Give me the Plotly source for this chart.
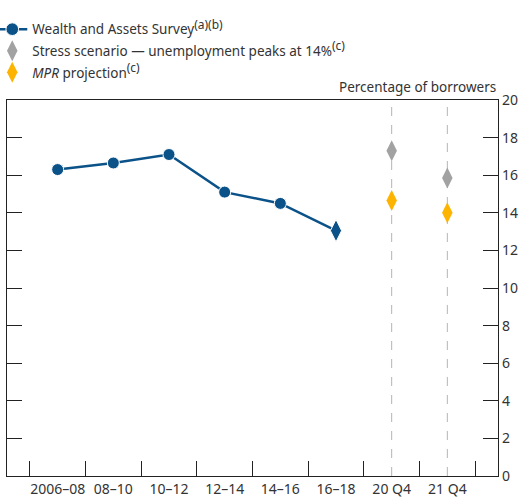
import plotly.graph_objects as go

categories = ["2006–08", "08–10", "10–12", "12–14", "14–16", "16–18", "20 Q4", "21 Q4"]
was_values = [16.3, 16.65, 17.1, 15.1, 14.5, 13.05]
stress_values = [17.3, 15.85]
mpr_values = [14.65, 14.0]
y_ticks = [0, 2, 4, 6, 8, 10, 12, 14, 16, 18, 20]

BLUE = "#0b5289"
GRAY = "#a2a2a2"
ORANGE = "#fdb400"
FONT = "Noto Sans"

n_was = len(was_values)
x_pos = list(range(len(categories)))
was_x = x_pos[:n_was]
proj_x = x_pos[n_was:]
boundaries = [i - 0.5 for i in range(len(categories) + 1)]


def sup(t):
    return '<sup><span style="font-size:12px">' + t + '</span></sup>'


fig = go.Figure()
fig.add_trace(go.Scatter(
    x=was_x, y=was_values, mode="lines+markers",
    name="Wealth and Assets Survey" + sup("(a)(b)"),
    line=dict(color=BLUE, width=2.5),
    marker=dict(color=BLUE, opacity=1, size=[12] * (n_was - 1) + [16],
                symbol=["circle"] * (n_was - 1) + ["diamond-tall"]),
    legendgroup="a",
))
fig.add_trace(go.Scatter(
    x=proj_x, y=stress_values, mode="markers",
    name="Stress scenario — unemployment peaks at 14%" + sup("(c)"),
    marker=dict(color=GRAY, opacity=1, size=15, symbol="diamond-tall"),
    legendgroup="b",
))
fig.add_trace(go.Scatter(
    x=proj_x, y=mpr_values, mode="markers",
    name="<i>MPR</i> projection" + sup("(c)"),
    marker=dict(color=ORANGE, opacity=1, size=15, symbol="diamond-tall"),
    legendgroup="c",
))

for p in proj_x:
    fig.add_shape(type="line", xref="x", yref="paper", x0=p, x1=p, y0=0, y1=1,
                  line=dict(color="#b5b5b5", width=1, dash="dash"), layer="below")

fig.add_annotation(text="Percentage of borrowers", xref="paper", yref="paper",
                   x=1, y=1, xanchor="right", yanchor="bottom", yshift=2,
                   showarrow=False, font=dict(family=FONT, size=13.5, color="#333"))

fig.update_layout(
    width=524, height=500,
    margin=dict(l=7, r=26, t=100, b=24, autoexpand=False),
    plot_bgcolor="white", paper_bgcolor="white",
    font=dict(family=FONT, size=13, color="#333"),
    showlegend=True,
    legend=dict(x=-0.030, y=1.229, xanchor="left", yanchor="top",
                font=dict(family=FONT, size=13.5, color="#333"),
                tracegroupgap=1, itemwidth=30, bgcolor="rgba(0,0,0,0)"),
    xaxis=dict(range=[-0.91, 7.91], tickvals=x_pos, ticktext=categories,
               ticks="", tickangle=0, automargin=False,
               minor=dict(tickvals=boundaries, ticks="inside", ticklen=15,
                          tickcolor="#222", tickwidth=1.2, showgrid=False),
               showline=True, linecolor="#222", linewidth=1.2, mirror=True,
               showgrid=False, zeroline=False,
               tickfont=dict(family=FONT, size=14, color="#333")),
    yaxis=dict(range=[0, 20], tickvals=y_ticks, side="right", ticks="inside",
               ticklen=15, tickcolor="#222", tickwidth=1.2, mirror="ticks",
               showline=True, linecolor="#222", linewidth=1.2,
               showgrid=False, zeroline=False, automargin=False,
               tickfont=dict(family=FONT, size=14, color="#333")),
)

fig.write_html("out.html", config={"displayModeBar": False},
               post_script="document.body.style.margin='0';document.body.style.overflow='hidden';")
